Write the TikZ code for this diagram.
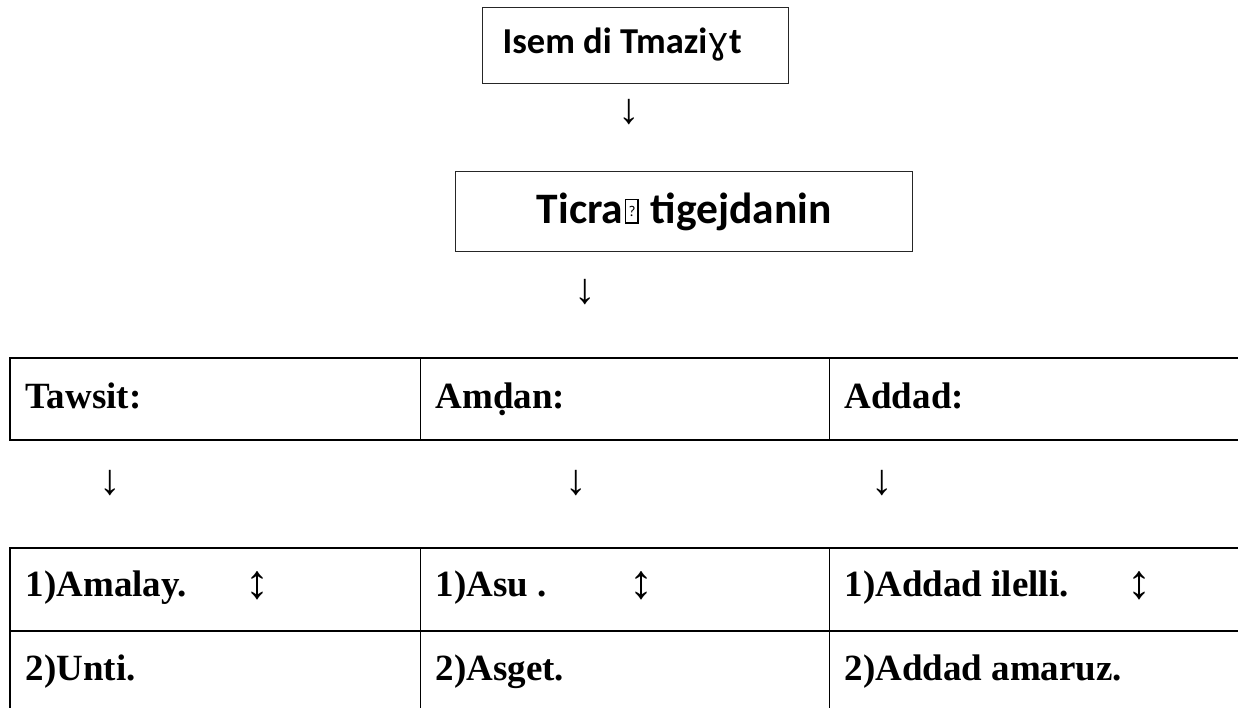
\documentclass[tikz,border=0pt]{standalone}
\usepackage{fontspec}
\setmainfont{Liberation Serif}
\newfontfamily\calfont{Carlito}
\newfontfamily\ipafont{DejaVu Sans}
\newfontfamily\arrowfont{Liberation Serif}
\newcommand\missingglyph{\kern2pt\vbox{\hrule height 1.3pt\hbox{\vrule width 1.3pt\vbox to 22pt{\vss\hbox to 11pt{\hss\fontsize{15}{15}\selectfont\mdseries ?\hss}\vss}\vrule width 1.3pt}\hrule height 1.3pt}\kern2pt}
\tikzset{
  hbox/.style={draw=black!85, line width=1.2pt, anchor=north west, inner ysep=0pt,
    font=\calfont\bfseries\fontsize{36.5}{40}\selectfont},
  cell/.style={draw, line width=1.3pt, anchor=north west, inner xsep=15pt, inner ysep=0pt,
    font=\bfseries\fontsize{37}{40}\selectfont},
  glyph/.style={inner sep=0pt, font=\arrowfont\fontsize{43}{46}\selectfont},
  frame/.style={line width=2.2pt, line cap=rect},
  rowA/.style={minimum height=81pt, text height=25pt, text depth=6pt},
  rowB/.style={minimum height=82pt, text height=25pt, text depth=11pt},
  rowC/.style={minimum height=82pt, text height=25pt, text depth=7pt},
}
\newcommand\ud{{\mdseries\arrowfont\fontsize{48}{50}\selectfont\raisebox{-2pt}{↕}}}
\newcommand\cw[2]{\makebox[#1pt][l]{#2}}
\begin{document}
\begin{tikzpicture}[x=1pt,y=-1pt]
\useasboundingbox (0,0) rectangle (1238,708);
\clip (0,0) rectangle (1238,708);
% top boxes
\node[hbox, minimum width=306pt, minimum height=76pt, inner xsep=20pt,
  text height=23pt, text depth=7pt] (b1) at (482,7) {\cw{266}{Isem di Tmazi{\ipafont\mdseries ɣ}t}};
\node[glyph] (a1) at (629,112) {↓};
\node[hbox, minimum width=457pt, minimum height=80pt, text height=27pt, text depth=3pt,
  font=\calfont\bfseries\fontsize{43.5}{46}\selectfont] (b2) at (455,171) {Ticra\missingglyph{} tigejdanin};
\node[glyph] (a2) at (585,292) {↓};
% first table
\node[cell, rowA, minimum width=410pt] (c11) at (10,358) {\cw{380}{Tawsit:}};
\node[cell, rowA, minimum width=409pt] (c12) at (420,358) {\cw{379}{Amd\char"0323 an:}};
\node[cell, rowA, minimum width=420pt] (c13) at (829,358) {\cw{390}{Addad:}};
\draw[frame] (c11.north west) -- (c13.north east);
\draw[frame] (c11.south west) -- (c13.south east);
\draw[frame] (c11.north west) -- (c11.south west);
% arrows
\node[glyph] (d1) at (110,483) {↓};
\node[glyph] (d2) at (576,483) {↓};
\node[glyph] (d3) at (882,483) {↓};
% second table
\node[cell, rowB, minimum width=410pt] (e11) at (10,548) {\cw{380}{\cw{220}{1)Amalay.}\ud}};
\node[cell, rowB, minimum width=409pt] (e12) at (420,548) {\cw{379}{\cw{194}{1)Asu .}\ud}};
\node[cell, rowB, minimum width=420pt] (e13) at (829,548) {\cw{390}{\cw{283}{1)Addad ilelli.}\ud}};
\node[cell, rowC, minimum width=410pt] (e21) at (10,630) {\cw{380}{2)Unti.}};
\node[cell, rowC, minimum width=409pt] (e22) at (420,630) {\cw{379}{2)Asget.}};
\node[cell, rowC, minimum width=420pt] (e23) at (829,630) {\cw{390}{2)Addad amaruz.}};
\draw[frame] (e11.north west) -- (e13.north east);
\draw[frame] (e11.south west) -- (e13.south east);
\draw[frame] (e11.north west) -- (e21.south west);
\end{tikzpicture}
\end{document}
